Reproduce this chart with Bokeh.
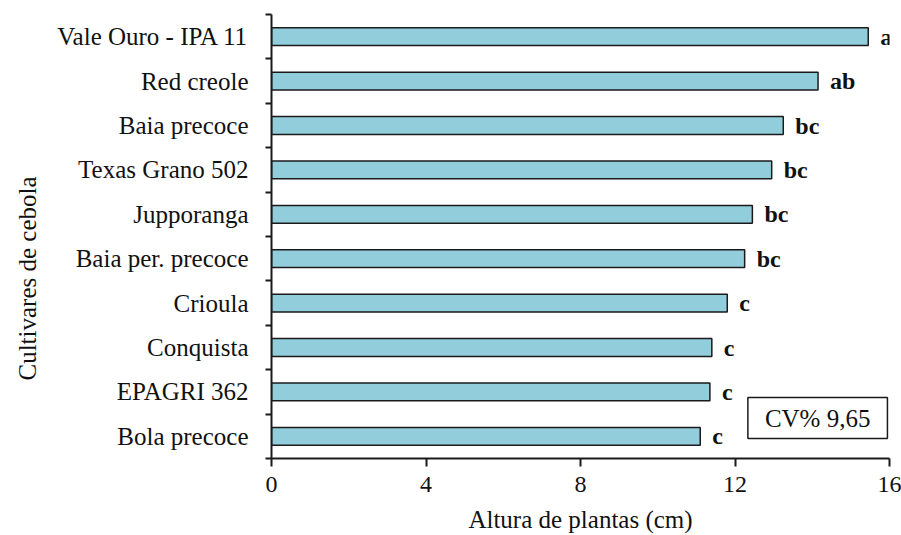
from bokeh.plotting import figure
from bokeh.models import FixedTicker, Range1d, Label, ColumnDataSource, Title
from bokeh.embed import file_html
from bokeh.resources import INLINE
from bokeh.core.properties import value

cultivars = ["Vale Ouro - IPA 11", "Red creole", "Baia precoce", "Texas Grano 502",
             "Jupporanga", "Baia per. precoce", "Crioula", "Conquista",
             "EPAGRI 362", "Bola precoce"]
heights = [15.45, 14.15, 13.25, 12.95, 12.45, 12.25, 11.8, 11.4, 11.35, 11.1]
letters = ["a", "ab", "bc", "bc", "bc", "bc", "c", "c", "c", "c"]
x_ticks = [0, 4, 8, 12, 16]
cv_text = "CV% 9,65"
x_title = "Altura de plantas (cm)"
y_title = "Cultivares de cebola"

FONT = "Liberation Serif"
n = len(cultivars)
ypos = [n - i for i in range(n)]

src = ColumnDataSource(dict(y=ypos, h=heights, lab=letters, name=cultivars))

p = figure(width=901, height=535, output_backend="svg", toolbar_location=None,
           x_range=Range1d(0, 16), y_range=Range1d(0.5, n + 0.5),
           min_border_left=271, min_border_right=12, min_border_top=14,
           min_border_bottom=77)
p.outline_line_color = None
p.xgrid.visible = False
p.ygrid.visible = False

p.hbar(y="y", right="h", left=0, height=0.4, source=src,
       fill_color="#92CDDC", line_color="#1a1a1a", line_width=1.5)

p.text(x="h", y="y", text="lab", source=src, x_offset=12,
       text_font=value(FONT), text_font_size="24px", text_font_style="bold",
       text_baseline="middle", text_align="left", text_color="#111111")

xa = p.xaxis[0]
xa.ticker = FixedTicker(ticks=x_ticks)
xa.axis_line_color = "#1a1a1a"
xa.axis_line_width = 2
xa.major_tick_line_color = "#1a1a1a"
xa.major_tick_line_width = 2
xa.major_tick_out = 8
xa.major_tick_in = 0
xa.minor_tick_out = 0
xa.minor_tick_in = 0
xa.major_label_text_font = FONT
xa.major_label_text_font_size = "24px"
xa.major_label_text_color = "#111111"
xa.major_label_standoff = 10
xa.axis_label = x_title
xa.axis_label_text_font = FONT
xa.axis_label_text_font_size = "25px"
xa.axis_label_text_font_style = "normal"
xa.axis_label_text_color = "#111111"
xa.axis_label_standoff = 11

ya = p.yaxis[0]
ya.ticker = FixedTicker(ticks=ypos, minor_ticks=[0.5 + i for i in range(n + 1)])
ya.major_label_overrides = {y: c for y, c in zip(ypos, cultivars)}
ya.axis_line_color = "#1a1a1a"
ya.axis_line_width = 2
ya.major_tick_out = 0
ya.major_tick_in = 0
ya.minor_tick_out = 6
ya.minor_tick_in = 0
ya.minor_tick_line_color = "#1a1a1a"
ya.minor_tick_line_width = 2
ya.major_label_text_font = FONT
ya.major_label_text_font_size = "25px"
ya.major_label_text_color = "#111111"
ya.major_label_standoff = 17

p.add_layout(Title(text=y_title, align="left", offset=78, vertical_align="top",
                   standoff=24, text_font=FONT, text_font_size="25px",
                   text_font_style="normal", text_color="#111111"), "left")

p.add_layout(Label(x=14.14, y=1.41, text=cv_text, text_align="center",
                   text_baseline="middle", text_font=FONT,
                   text_font_size="25px", text_color="#111111",
                   border_line_color="#1a1a1a", border_line_width=1.5,
                   background_fill_color="white",
                   padding=dict(left=17, right=17, top=7, bottom=7)))

open("out.html", "w").write(file_html(p, INLINE))
